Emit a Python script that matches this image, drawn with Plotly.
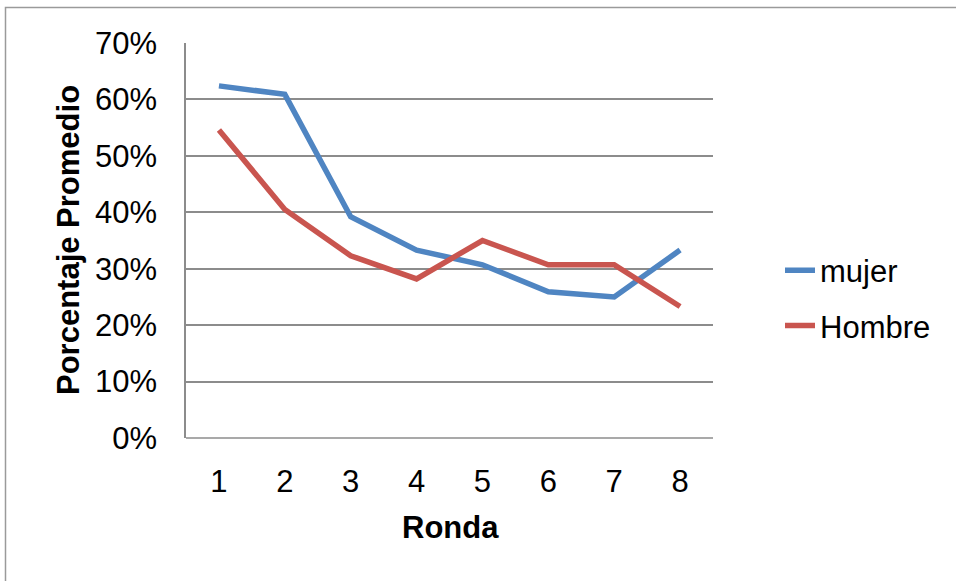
import plotly.graph_objects as go

rondas = ["1", "2", "3", "4", "5", "6", "7", "8"]
mujer = [0.624, 0.609, 0.392, 0.333, 0.307, 0.259, 0.250, 0.333]
hombre = [0.546, 0.405, 0.323, 0.282, 0.350, 0.307, 0.307, 0.233]
y_ticks = [0, 0.1, 0.2, 0.3, 0.4, 0.5, 0.6, 0.7]
y_labels = ["0%", "10%", "20%", "30%", "40%", "50%", "60%", "70%"]

FONT = "Liberation Sans, Arial, sans-serif"
GRID = "#8c8c8c"
FS = 31

W, H = 956, 581
L, T, R, B = 186, 43, 243, 143
PW, PH = W - L - R, H - T - B  # plot area size

def px(xabs):
    return (xabs - L) / PW

def py(yabs):
    return (H - B - yabs) / PH

fig = go.Figure()
fig.add_trace(go.Scatter(x=rondas, y=mujer, mode="lines", name="mujer",
                         legendgroup="a",
                         line=dict(color="#4F85C2", width=5.5)))
fig.add_trace(go.Scatter(x=rondas, y=hombre, mode="lines", name="Hombre",
                         legendgroup="b",
                         line=dict(color="#C9554F", width=5.5)))

fig.update_layout(
    width=W, height=H,
    margin=dict(l=L, r=R, t=T, b=B, pad=0),
    paper_bgcolor="white", plot_bgcolor="white",
    font=dict(family=FONT, size=FS, color="black"),
    showlegend=True,
    legend=dict(x=px(780), xanchor="left", y=py(298), yanchor="middle",
                font=dict(size=FS), tracegroupgap=12,
                bgcolor="rgba(0,0,0,0)"),
    xaxis=dict(type="category", range=[-0.5, 7.5], showgrid=False,
               showline=False, zeroline=False, ticks="",
               ticklabelstandoff=22, tickfont=dict(size=FS)),
    yaxis=dict(range=[0, 0.7], tickvals=y_ticks, ticktext=y_labels,
               showgrid=True, gridcolor=GRID, gridwidth=1.5,
               showline=True, linecolor=GRID, linewidth=1.5,
               zeroline=False, ticks="", ticklabelstandoff=21,
               tickfont=dict(size=FS)),
    annotations=[
        dict(text="<b>Ronda</b>", xref="paper", yref="paper",
             x=px(450), y=py(527), xanchor="center", yanchor="middle",
             showarrow=False, font=dict(size=FS)),
        dict(text="<b>Porcentaje Promedio</b>", xref="paper", yref="paper",
             x=px(68), y=py(240), xanchor="center",
             yanchor="middle", textangle=-90, showarrow=False,
             font=dict(size=FS)),
    ],
    shapes=[
        dict(type="line", xref="paper", yref="paper",
             x0=0, x1=1, y0=0, y1=0, line=dict(color=GRID, width=1.5)),
        dict(type="path", xref="paper", yref="paper",
             path="M {x0} {yb} L {x0} {yt} L {x1} {yt}".format(
                 x0=px(5.5), yb=py(590), yt=py(7.5), x1=px(970)),
             line=dict(color="#9a9a9a", width=1.5)),
    ],
)

fig.write_html("out.html",
               config={"displayModeBar": False},
               post_script="document.body.style.margin='0';")
